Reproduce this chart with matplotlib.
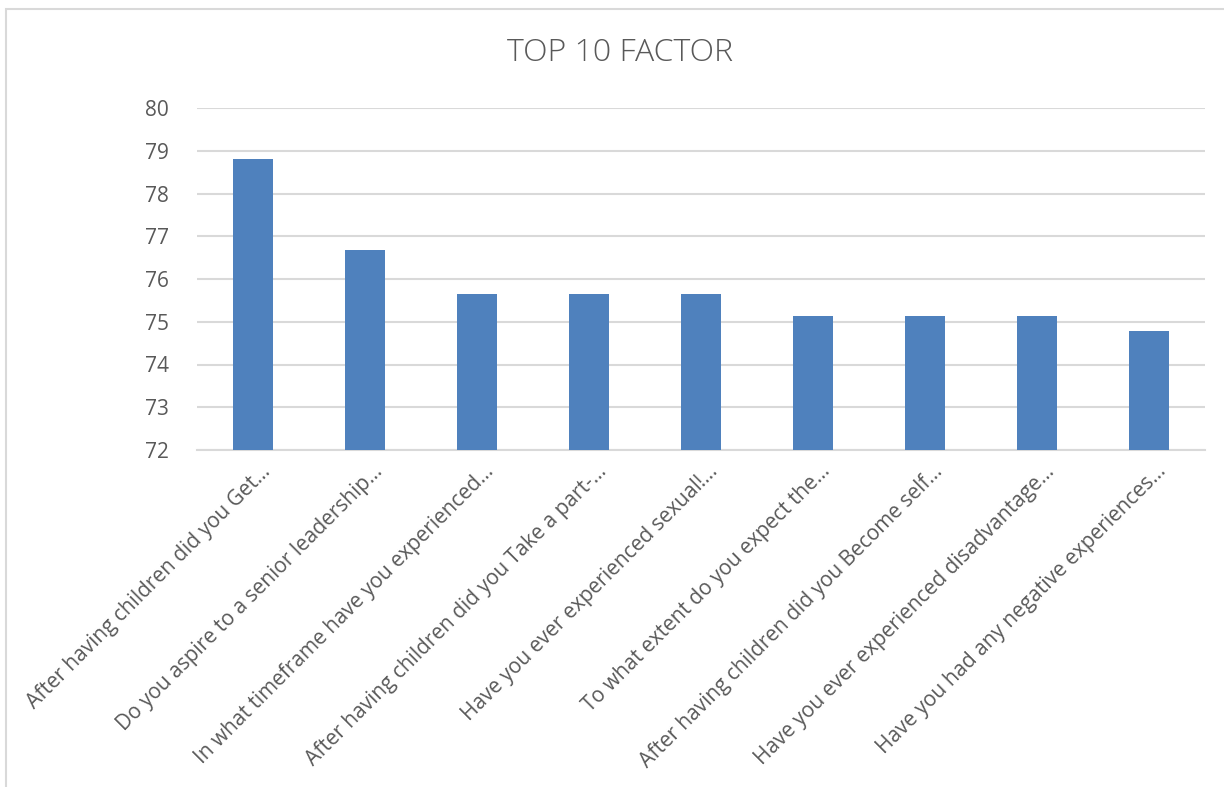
import numpy as np
import matplotlib.pyplot as plt
from matplotlib.patches import Rectangle

categories = [
    'After having children did you Get...',
    'Do you aspire to a senior leadership...',
    'In what timeframe have you experienced...',
    'After having children did you Take a part-...',
    'Have you ever experienced sexual!...',
    'To what extent do you expect the...',
    'After having children did you Become self...',
    'Have you ever experienced disadvantage...',
    'Have you had any negative experiences...',
]
values = [78.8, 76.69, 75.65, 75.65, 75.65, 75.13, 75.13, 75.13, 74.78]
yticks = [72, 73, 74, 75, 76, 77, 78, 79, 80]

plt.rcParams['font.family'] = ['Open Sans', 'DejaVu Sans']
grey = '#595959'

fig = plt.figure(figsize=(12.24, 7.87), dpi=100)
# chart border like the excel frame
fig.patches.append(Rectangle((6 / 1224, -0.1), 1.2, 1.1 - 9 / 787, transform=fig.transFigure,
                             fill=False, edgecolor='#D9D9D9', linewidth=1.5))

ax = fig.add_axes([197 / 1224, 1 - 450 / 787, (1205 - 197) / 1224, (450 - 108) / 787])
x = np.arange(len(categories))
ax.bar(x, values - np.array(72.0), bottom=72, width=0.36, color='#4F81BD', zorder=3)

ax.set_xlim(-0.5, len(categories) - 0.5)
ax.set_ylim(72, 80)
ax.set_yticks(yticks)
ax.set_yticklabels([str(v) for v in yticks], fontsize=15, color=grey)
ax.yaxis.grid(True, color='#D9D9D9', linewidth=1.5, zorder=0)
ax.tick_params(axis='y', length=0, pad=20)
ax.tick_params(axis='x', length=0, pad=8)
for s in ['top', 'right', 'left']:
    ax.spines[s].set_visible(False)
ax.spines['bottom'].set_color('#D9D9D9')
ax.spines['bottom'].set_linewidth(1.5)

ax.set_xticks(x + 0.06)
ax.set_xticklabels(categories, rotation=45, ha='right', rotation_mode='anchor',
                   fontsize=15, color=grey)

fig.text(620 / 1224, 1 - 53 / 787, 'TOP 10 FACTOR', ha='center', va='center',
         fontsize=23, color=grey, fontweight='light')

fig.savefig('out.png', dpi=100)
